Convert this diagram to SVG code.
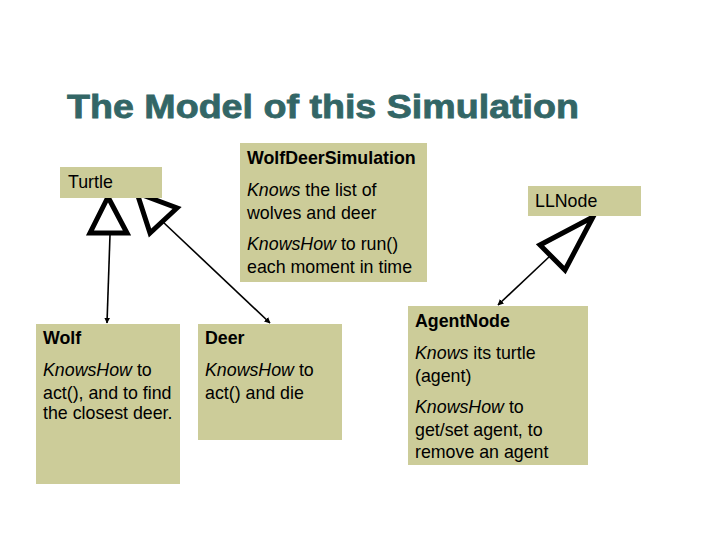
<svg xmlns="http://www.w3.org/2000/svg" width="720" height="540" viewBox="0 0 720 540">
<style>
.box{fill:#CCCC99}
.t{font-family:"Liberation Sans",Arial,sans-serif;font-size:17.8px;fill:#000}
.b{font-weight:bold}
.title{font-family:"Liberation Sans",Arial,sans-serif;font-size:33px;font-weight:bold;fill:#336666;stroke:#336666;stroke-width:0.8}
.tri{fill:#fff;stroke:#000;stroke-width:5;stroke-linejoin:miter}
.ln{stroke:#000;stroke-width:1.6;fill:none;marker-end:url(#ah)}
</style>
<defs>
<marker id="ah" viewBox="0 0 10 10" refX="9" refY="5" markerWidth="6" markerHeight="6" markerUnits="userSpaceOnUse" orient="auto">
<path d="M0,0 L10,5 L0,10 z" fill="#000"/>
</marker>
</defs>
<rect width="720" height="540" fill="#fff"/>
<text class="title" x="67" y="118" textLength="512" lengthAdjust="spacingAndGlyphs">The Model of this Simulation</text>

<g id="connectors">
<line class="ln" x1="110" y1="235" x2="107" y2="323"/>
<polygon class="tri" points="108,197 90,233 127,233"/>
<line class="ln" x1="163" y1="222" x2="270" y2="323"/>
<polygon class="tri" points="137,193 177,208 150,233"/>
<line class="ln" x1="550" y1="256" x2="498" y2="305"/>
<polygon class="tri" points="593,217 540,245 565,270"/>
</g>

<g id="turtle">
<rect class="box" x="60" y="167" width="102" height="31"/>
<text class="t" x="68" y="188">Turtle</text>
</g>
<g id="wolfdeersimulation">
<rect class="box" x="240" y="143" width="187" height="139"/>
<text class="t b" x="247" y="164">WolfDeerSimulation</text>
<text class="t" x="247" y="196"><tspan font-style="italic">Knows</tspan> the list of</text>
<text class="t" x="247" y="219">wolves and deer</text>
<text class="t" x="247" y="250"><tspan font-style="italic">KnowsHow</tspan> to run()</text>
<text class="t" x="247" y="273">each moment in time</text>
</g>
<g id="llnode">
<rect class="box" x="528" y="186" width="113" height="30"/>
<text class="t" x="535" y="207">LLNode</text>
</g>
<g id="wolf">
<rect class="box" x="36" y="324" width="144" height="160"/>
<text class="t b" x="43" y="344">Wolf</text>
<text class="t" x="43" y="376"><tspan font-style="italic">KnowsHow</tspan> to</text>
<text class="t" x="43" y="399">act(), and to find</text>
<text class="t" x="43" y="419">the closest deer.</text>
</g>
<g id="deer">
<rect class="box" x="198" y="324" width="144" height="116"/>
<text class="t b" x="205" y="344">Deer</text>
<text class="t" x="205" y="376"><tspan font-style="italic">KnowsHow</tspan> to</text>
<text class="t" x="205" y="399">act() and die</text>
</g>
<g id="agentnode">
<rect class="box" x="408" y="306" width="180" height="159"/>
<text class="t b" x="415" y="327">AgentNode</text>
<text class="t" x="415" y="359"><tspan font-style="italic">Knows</tspan> its turtle</text>
<text class="t" x="415" y="382">(agent)</text>
<text class="t" x="415" y="413"><tspan font-style="italic">KnowsHow</tspan> to</text>
<text class="t" x="415" y="436">get/set agent, to</text>
<text class="t" x="415" y="458">remove an agent</text>
</g>
</svg>
